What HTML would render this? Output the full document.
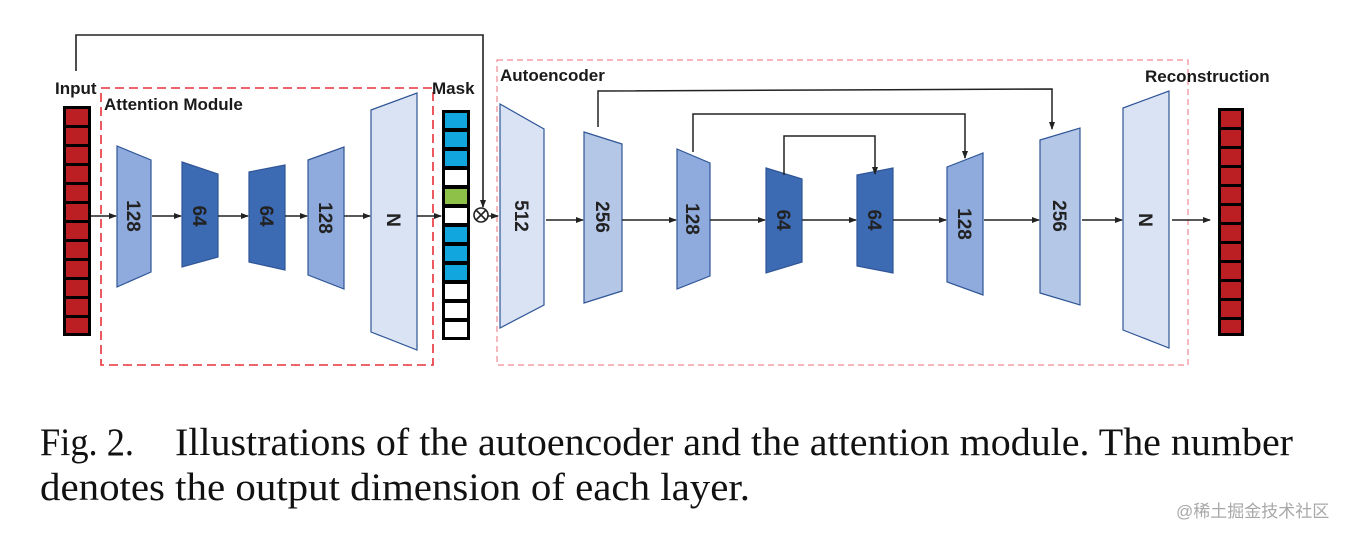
<!DOCTYPE html>
<html><head><meta charset="utf-8"><style>
html,body{margin:0;padding:0;background:#fff;}
svg{display:block;}
.lab{font-family:"Liberation Sans",sans-serif;font-weight:bold;font-size:17px;fill:#1a1a1a;}
.num{font-family:"Liberation Sans",sans-serif;font-weight:bold;font-size:19px;fill:#222;}
.cap{font-family:"Liberation Serif",serif;font-size:39px;fill:#111;}
</style></head><body>
<svg width="1354" height="538" viewBox="0 0 1354 538" xmlns="http://www.w3.org/2000/svg">
<defs>
<marker id="ah" markerWidth="8" markerHeight="8" refX="7" refY="4" orient="auto" markerUnits="userSpaceOnUse">
<path d="M0,1 L8,4 L0,7 z" fill="#222"/></marker>
</defs>
<rect x="101" y="88" width="332" height="277" fill="none" stroke="#e8303a" stroke-width="1.6" stroke-dasharray="9,5"/>
<rect x="497" y="60" width="691" height="305" fill="none" stroke="#f08a94" stroke-width="1.2" stroke-dasharray="6,4"/>

<polyline points="76,71 76,35 483,35 483,207" fill="none" stroke="#222" stroke-width="1.6" marker-end="url(#ah)"/>

<g>
<rect x="63" y="106" width="28" height="230" fill="#000"/>
<g fill="#bb1e23">
<rect x="66" y="109" width="22" height="16"/><rect x="66" y="128" width="22" height="16"/><rect x="66" y="147" width="22" height="16"/><rect x="66" y="166" width="22" height="16"/><rect x="66" y="185" width="22" height="16"/><rect x="66" y="204" width="22" height="16"/><rect x="66" y="223" width="22" height="16"/><rect x="66" y="242" width="22" height="16"/><rect x="66" y="261" width="22" height="16"/><rect x="66" y="280" width="22" height="16"/><rect x="66" y="299" width="22" height="16"/><rect x="66" y="318" width="22" height="15"/>
</g></g>

<rect x="442" y="110" width="28" height="230" fill="#000"/>
<g>
<rect x="445" y="113" width="22" height="15" fill="#12a6df"/>
<rect x="445" y="132" width="22" height="15" fill="#12a6df"/>
<rect x="445" y="151" width="22" height="15" fill="#12a6df"/>
<rect x="445" y="170" width="22" height="15" fill="#fff"/>
<rect x="445" y="189" width="22" height="15" fill="#8dc147"/>
<rect x="445" y="208" width="22" height="15" fill="#fff"/>
<rect x="445" y="227" width="22" height="15" fill="#12a6df"/>
<rect x="445" y="246" width="22" height="15" fill="#12a6df"/>
<rect x="445" y="265" width="22" height="15" fill="#12a6df"/>
<rect x="445" y="284" width="22" height="15" fill="#fff"/>
<rect x="445" y="303" width="22" height="15" fill="#fff"/>
<rect x="445" y="322" width="22" height="15" fill="#fff"/>
</g>

<rect x="1218" y="108" width="26" height="228" fill="#000"/>
<g fill="#bb1e23">
<rect x="1221" y="111" width="20" height="16"/><rect x="1221" y="130" width="20" height="16"/><rect x="1221" y="149" width="20" height="16"/><rect x="1221" y="168" width="20" height="16"/><rect x="1221" y="187" width="20" height="16"/><rect x="1221" y="206" width="20" height="16"/><rect x="1221" y="225" width="20" height="16"/><rect x="1221" y="244" width="20" height="16"/><rect x="1221" y="263" width="20" height="16"/><rect x="1221" y="282" width="20" height="16"/><rect x="1221" y="301" width="20" height="16"/><rect x="1221" y="320" width="20" height="13"/>
</g>

<g stroke="#2f5597" stroke-width="1.2">
<polygon points="117,146 151,160 151,272 117,287" fill="#8faadc"/>
<polygon points="182,162 218,174 218,257 182,267" fill="#3d6bb3"/>
<polygon points="249,172 285,165 285,270 249,262" fill="#3d6bb3"/>
<polygon points="308,160 344,147 344,289 308,275" fill="#8faadc"/>
<polygon points="371,110 417,93 417,350 371,332" fill="#dae3f3"/>

<polygon points="500,104 544,129 544,305 500,328" fill="#dae3f3"/>
<polygon points="584,132 622,144 622,291 584,303" fill="#b4c7e7"/>
<polygon points="677,149 710,163 710,276 677,289" fill="#8faadc"/>
<polygon points="766,168 802,179 802,262 766,273" fill="#3d6bb3"/>
<polygon points="857,175 893,168 893,273 857,266" fill="#3d6bb3"/>
<polygon points="947,167 983,153 983,295 947,282" fill="#8faadc"/>
<polygon points="1040,140 1080,128 1080,305 1040,293" fill="#b4c7e7"/>
<polygon points="1123,108 1169,91 1169,348 1123,330" fill="#dae3f3"/>
</g>

<g class="num" text-anchor="middle">
<text transform="translate(134,216) rotate(90)" dy="7">128</text>
<text transform="translate(200,216) rotate(90)" dy="7">64</text>
<text transform="translate(267,216) rotate(90)" dy="7">64</text>
<text transform="translate(326,218) rotate(90)" dy="7">128</text>
<text transform="translate(394,220) rotate(90)" dy="7">N</text>
<text transform="translate(522,216) rotate(90)" dy="7">512</text>
<text transform="translate(603,217) rotate(90)" dy="7">256</text>
<text transform="translate(693,219) rotate(90)" dy="7">128</text>
<text transform="translate(784,220) rotate(90)" dy="7">64</text>
<text transform="translate(875,220) rotate(90)" dy="7">64</text>
<text transform="translate(965,224) rotate(90)" dy="7">128</text>
<text transform="translate(1060,216) rotate(90)" dy="7">256</text>
<text transform="translate(1146,220) rotate(90)" dy="7">N</text>
</g>

<g stroke="#222" stroke-width="1.5" fill="none" marker-end="url(#ah)">
<line x1="91" y1="216" x2="116" y2="216"/>
<line x1="152" y1="216" x2="181" y2="216"/>
<line x1="218" y1="216" x2="248" y2="216"/>
<line x1="285" y1="216" x2="307" y2="216"/>
<line x1="344" y1="216" x2="370" y2="216"/>
<line x1="417" y1="216" x2="441" y2="216"/>
<line x1="488" y1="216" x2="498" y2="216"/>
<line x1="546" y1="220" x2="583" y2="220"/>
<line x1="622" y1="220" x2="676" y2="220"/>
<line x1="710" y1="220" x2="765" y2="220"/>
<line x1="802" y1="220" x2="856" y2="220"/>
<line x1="893" y1="220" x2="946" y2="220"/>
<line x1="984" y1="220" x2="1039" y2="220"/>
<line x1="1082" y1="220" x2="1122" y2="220"/>
<line x1="1172" y1="220" x2="1210" y2="220"/>
<polyline points="598,127 598,91 1052,89 1052,129"/>
<polyline points="693,152 693,114 965,114 965,158"/>
<polyline points="784,175 784,136 875,136 875,174"/>
</g>

<circle cx="481" cy="215" r="7" fill="#fff" stroke="#222" stroke-width="1.6"/>
<line x1="476" y1="210" x2="486" y2="220" stroke="#222" stroke-width="1.6"/>
<line x1="486" y1="210" x2="476" y2="220" stroke="#222" stroke-width="1.6"/>

<text class="lab" x="55" y="94">Input</text>
<text class="lab" x="104" y="110">Attention Module</text>
<text class="lab" x="432" y="94">Mask</text>
<text class="lab" x="500" y="81">Autoencoder</text>
<text class="lab" x="1145" y="82">Reconstruction</text>

<text class="cap" x="40" y="455" textLength="94" lengthAdjust="spacingAndGlyphs">Fig. 2.</text>
<text class="cap" x="175" y="455" textLength="1118" lengthAdjust="spacingAndGlyphs">Illustrations of the autoencoder and the attention module. The number</text>
<text class="cap" x="40" y="500" textLength="710" lengthAdjust="spacingAndGlyphs">denotes the output dimension of each layer.</text>
<text x="1176" y="517" font-family="'Liberation Sans','Noto Sans CJK SC',sans-serif" font-size="17" fill="#a8a8a8">@稀土掘金技术社区</text>
</svg>
</body></html>
